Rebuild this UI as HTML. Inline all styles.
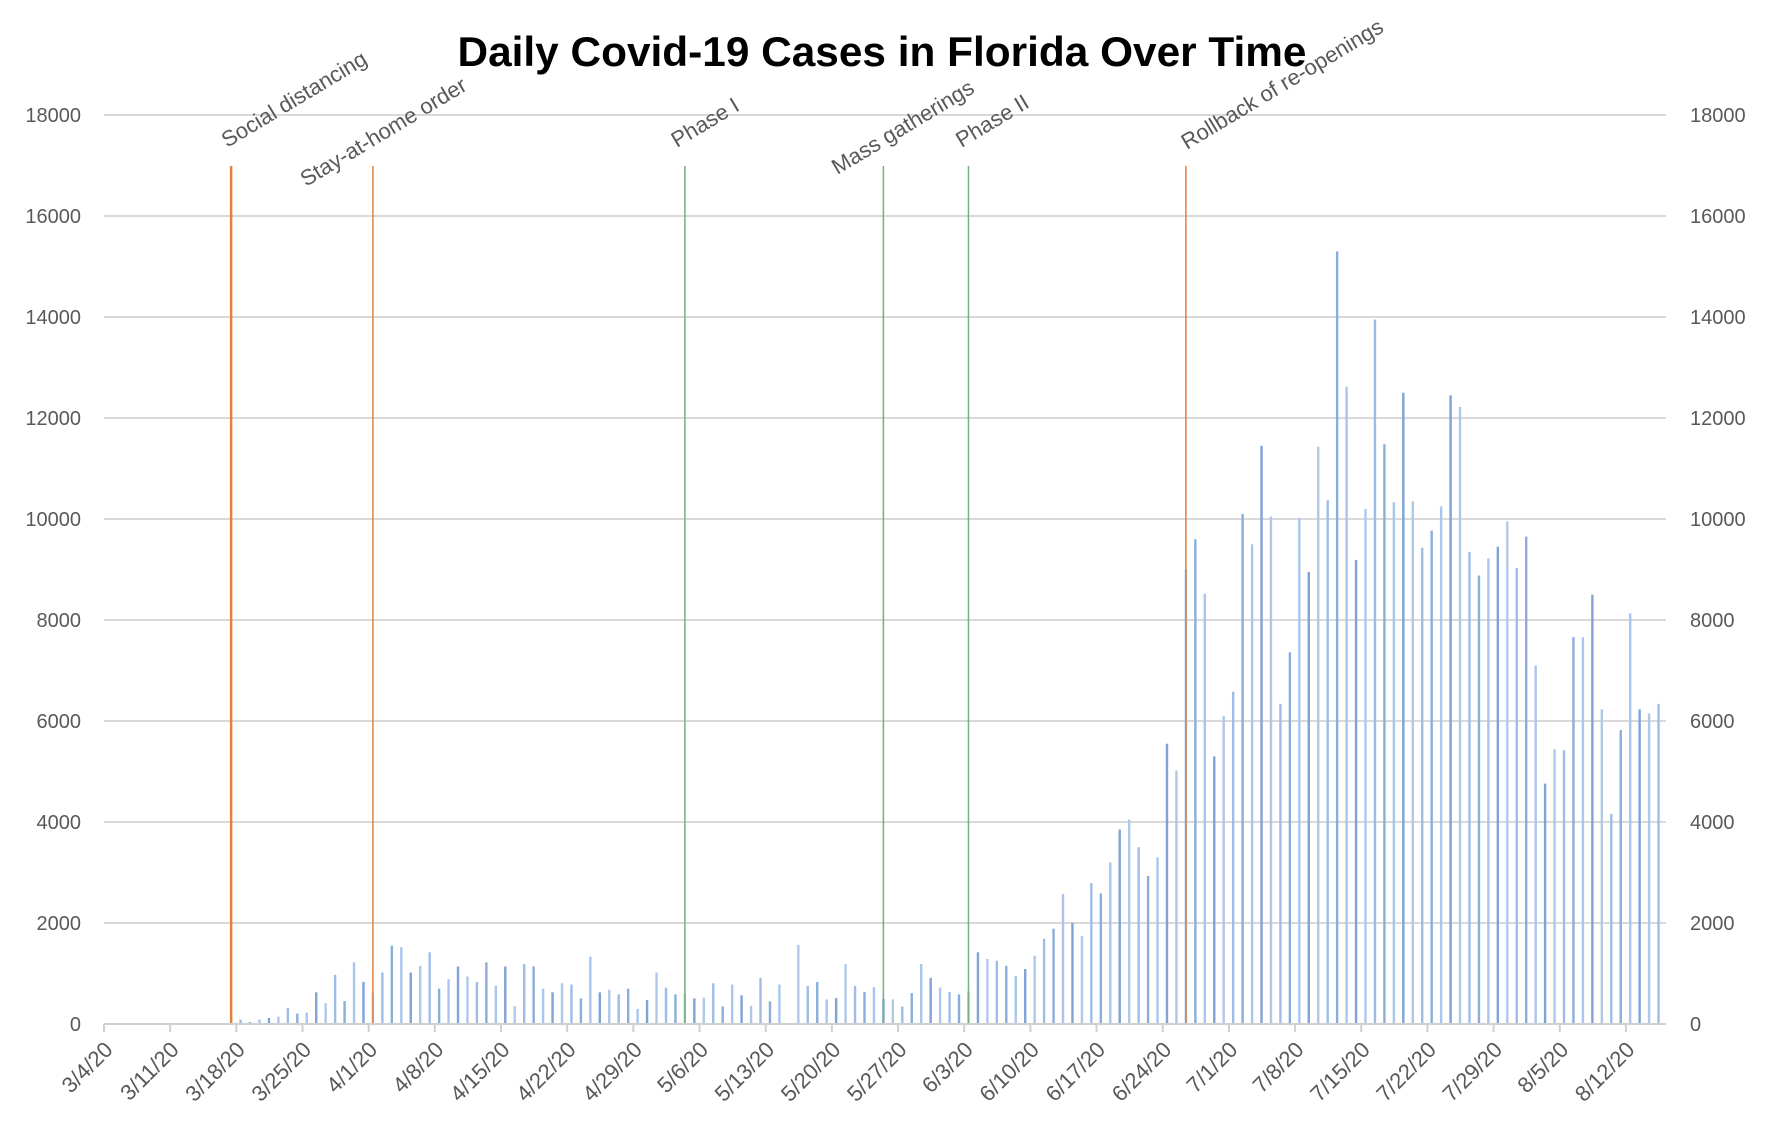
<!DOCTYPE html>
<html><head><meta charset="utf-8"><title>Daily Covid-19 Cases in Florida Over Time</title>
<style>html,body{margin:0;padding:0;background:#fff}svg{display:block;font-family:"Liberation Sans",sans-serif}</style></head>
<body>
<svg id="chart" width="1772" height="1135" viewBox="0 0 1772 1135" xmlns="http://www.w3.org/2000/svg">
<rect width="1772" height="1135" fill="#fff"/>
<text x="882" y="66" text-anchor="middle" font-size="42" font-weight="bold" fill="#000" textLength="849" lengthAdjust="spacingAndGlyphs">Daily Covid-19 Cases in Florida Over Time</text>
<g id="grid"></g><g id="bars"></g><g id="events"></g><g id="axes"></g>
</svg>
<script>
// day offsets from 3/4/20; values start at 3/18/20 (day 14)
const startDay = 14;
const cases = [87,40,87,120,147,320,207,227,627,413,973,453,1220,833,620,1020,1553,1520,1020,1153,
1420,700,887,1140,940,833,1220,760,1140,353,1187,1140,700,627,807,780,507,1333,627,680,
587,700,300,473,1020,720,587,600,507,520,807,347,780,567,360,913,447,780,0,1567,
753,833,487,513,1187,753,633,727,500,487,347,613,1187,913,720,633,587,650,1420,1287,
1253,1153,953,1087,1353,1687,1887,2573,2000,1747,2787,2587,3200,3850,4050,3500,2930,3300,5550,5020,
9000,9600,8520,5300,6100,6580,10100,9500,11450,10050,6340,7360,10020,8950,11430,10370,15300,12620,9190,10200,
13950,11480,10330,12500,10350,9430,9770,10250,12450,12220,9350,8880,9220,9450,9950,9030,9650,7100,4760,5440,
5420,7660,7660,8500,6230,4160,5820,8130,6230,6150,6340];
const tickLabels = ["3/4/20","3/11/20","3/18/20","3/25/20","4/1/20","4/8/20","4/15/20","4/22/20","4/29/20","5/6/20","5/13/20","5/20/20","5/27/20","6/3/20","6/10/20","6/17/20","6/24/20","7/1/20","7/8/20","7/15/20","7/22/20","7/29/20","8/5/20","8/12/20"];
const yTicks = [0,2000,4000,6000,8000,10000,12000,14000,16000,18000];
const eventNames = ["Social distancing","Stay-at-home order","Phase I","Mass gatherings","Phase II","Rollback of re-openings"];
const eventDays = [13,28,61,82,91,114];
const eventKinds = ["orange","orange","green","green","green","orange"];
// label placement (styling, pixels): offset from line, baseline y
const labelDx = [-4,-67,-8,-46,-7,1];
const labelY = [148,187,148,175,148,150];

const NS="http://www.w3.org/2000/svg";
const X0=104, DAY=9.453, Y0=1024, PX_PER=909/18000, XR=1666;
const xDay=d=>X0+d*DAY;
const xBar=d=>X0+(d+0.45)*DAY;
const y=v=>Y0-v*PX_PER;
function mk(tag,attrs,parent){const e=document.createElementNS(NS,tag);for(const k in attrs)e.setAttribute(k,attrs[k]);parent.appendChild(e);return e;}
const grid=document.getElementById('grid'),bars=document.getElementById('bars'),events=document.getElementById('events'),axes=document.getElementById('axes');

yTicks.forEach(v=>{
  if(v>0){const l=mk('line',{x1:X0,x2:XR,y1:y(v),y2:y(v),stroke:'#d9d9d9','stroke-width':2},grid);
  
  }
  const t=mk('text',{x:81,y:y(v)+7,'text-anchor':'end','font-size':20,fill:'#595959'},axes);t.textContent=v;
  
  
  const t2=mk('text',{x:1690,y:y(v)+7,'font-size':20,fill:'#595959'},axes);t2.textContent=v;
  
  
});

const shades=['#9dbde8','#8aaedc','#a9c6ee','#7fa3d6','#b0c8e8'];
cases.forEach((v,i)=>{
  const d=startDay+i;
  const b=mk('rect',{x:xBar(d)-1.2,y:y(v),width:2.4,height:Math.max(0,Y0-y(v)),fill:shades[i%5]},bars);
  
  
});

const xl=mk('line',{x1:X0,x2:XR,y1:Y0,y2:Y0,stroke:'#d0d0d0','stroke-width':2},axes);


tickLabels.forEach((lab,i)=>{
  const tx=xDay(i*7);
  const tk=mk('line',{x1:tx,x2:tx,y1:Y0,y2:Y0+8,stroke:'#d0d0d0','stroke-width':2},axes);
  
  
  const ax=tx+10, ay=Y0+27;
  const t=mk('text',{x:ax,y:ay,'text-anchor':'end','font-size':22,fill:'#595959',transform:`rotate(-45 ${ax} ${ay})`},axes);
  t.textContent=lab;
  
  
});

eventNames.forEach((n,i)=>{
  const ex=xBar(eventDays[i]);
  const col=eventKinds[i]==='orange'?'#e0823c':'#76b07a';
  const l=mk('line',{x1:ex,x2:ex,y1:166,y2:Y0,stroke:col,'stroke-width':i===0?2.5:1.5},events);
  
  
  const lx=ex+labelDx[i], yy=labelY[i];
  const t=mk('text',{x:lx,y:yy,'font-size':22,fill:'#595959',transform:`rotate(-31 ${lx} ${yy})`},events);
  t.textContent=n;
  
  
});
</script>
</body></html>
